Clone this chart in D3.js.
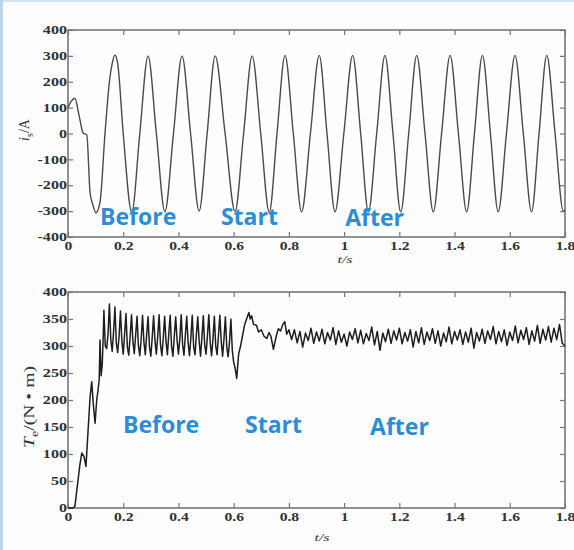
<!DOCTYPE html>
<html>
<head>
<meta charset="utf-8">
<script src="https://cdn.jsdelivr.net/npm/d3@7"></script>
<style>
  body { margin: 0; background: #fdfdfd; }
  svg { display: block; }
</style>
</head>
<body>
<div id="chart"></div>
<script>
// tick labels
var xTicks = [0, 0.2, 0.4, 0.6, 0.8, 1, 1.2, 1.4, 1.6, 1.8];
var xTickLabels = ["0", "0.2", "0.4", "0.6", "0.8", "1", "1.2", "1.4", "1.6", "1.8"];
var currentTicks = [-400, -300, -200, -100, 0, 100, 200, 300, 400];
var currentTickLabels = ["-400", "-300", "-200", "-100", "0", "100", "200", "300", "400"];
var torqueTicks = [0, 50, 100, 150, 200, 250, 300, 350, 400];
var torqueTickLabels = ["0", "50", "100", "150", "200", "250", "300", "350", "400"];

// stator current i_s (A): times and values read at peaks, troughs and crossings
var currentT = [0, 0.012, 0.025, 0.04, 0.055, 0.068, 0.08, 0.09, 0.101, 0.116, 0.134, 0.15, 0.16, 0.17, 0.18,
  0.2, 0.231, 0.26, 0.29, 0.32, 0.351, 0.382, 0.413, 0.444, 0.475, 0.504, 0.533, 0.569, 0.605,
  0.636, 0.667, 0.698, 0.729, 0.757, 0.786, 0.816, 0.846, 0.878, 0.91, 0.938, 0.967, 0.999, 1.031,
  1.06, 1.088, 1.118, 1.148, 1.177, 1.205, 1.234, 1.263, 1.293, 1.323, 1.353, 1.384, 1.414, 1.444,
  1.472, 1.501, 1.53, 1.558, 1.588, 1.619, 1.649, 1.679, 1.706, 1.734, 1.764, 1.794, 1.8];
var currentV = [100, 125, 136, 70, 2, -5, -230, -275, -306, -265, 0, 200, 270, 303, 270,
  0, -305, 0, 300, 0, -303, 0, 300, 0, -300, 0, 300, 0, -302,
  0, 300, 0, -305, 0, 302, 0, -303, 0, 302, 0, -303, 0, 302,
  0, -303, 0, 302, 0, -303, 0, 302, 0, -303, 0, 302, 0, -303,
  0, 302, 0, -303, 0, 302, 0, -303, 0, 302, 0, -300, -295];

// electromagnetic torque T_e (N·m)
// start-up ramp
var torqueRampT = [0, 0.018, 0.025, 0.043, 0.05, 0.058, 0.065, 0.08, 0.086, 0.092, 0.098, 0.104, 0.108, 0.113, 0.116, 0.12, 0.124, 0.128];
var torqueRampV = [0, 0, 3, 80, 102, 95, 77, 206, 234, 190, 157, 200, 215, 237, 311, 245, 265, 324];
// ripple before, sampled every 0.005 s from 0.13 s
var rippleStart = 0.13, rippleStep = 0.005;
var rippleV = [
  366, 300, 295, 322, 378, 312, 290, 326, 372, 305, 288, 318, 365, 310, 285, 322,
  360, 298, 283, 317, 358, 309, 286, 320, 355, 301, 282, 312, 357, 307, 284, 321,
  354, 299, 281, 316, 356, 310, 285, 319, 358, 302, 282, 314, 355, 308, 284, 322,
  357, 300, 281, 318, 354, 311, 285, 313, 358, 303, 283, 320, 355, 307, 282, 315,
  357, 299, 284, 321, 354, 309, 281, 316, 356, 302, 285, 319, 358, 306, 282, 313,
  355, 300, 284, 320, 357, 308, 281, 314, 354, 298, 280, 308, 350, 292, 270, 260];
// switching moment
var torqueSwitchT = [0.611, 0.618, 0.625, 0.64, 0.648, 0.655, 0.66, 0.665, 0.672, 0.683, 0.69, 0.70, 0.71, 0.72, 0.728, 0.735, 0.744, 0.755, 0.762, 0.77, 0.778, 0.785, 0.792, 0.80];
var torqueSwitchV = [240, 285, 300, 340, 352, 362, 350, 356, 340, 338, 326, 330, 318, 314, 325, 318, 294, 320, 332, 328, 340, 345, 322, 330];
// after, sampled every 0.01 s from 0.81 s
var afterStart = 0.81, afterStep = 0.01;
var afterV = [
  312, 330, 306, 327, 298, 324, 310, 333, 305, 326,
  309, 331, 304, 325, 311, 334, 303, 328, 307, 322,
  300, 326, 312, 332, 306, 329, 304, 323, 310, 335,
  302, 327, 292, 324, 308, 331, 305, 328, 311, 333,
  304, 325, 309, 330, 298, 327, 306, 334, 303, 326,
  310, 332, 305, 328, 300, 324, 308, 335, 304, 327,
  311, 330, 303, 326, 307, 333, 296, 325, 309, 331,
  305, 328, 312, 336, 304, 327, 308, 330, 301, 326,
  310, 337, 306, 329, 312, 334, 303, 328, 309, 338,
  305, 331, 311, 336, 307, 333, 312, 340, 305, 300];

// annotations
var labelsTop = [{text: "Before", t: 0.116, v: -353}, {text: "Start", t: 0.554, v: -353}, {text: "After", t: 1.004, v: -358}];
var labelsBottom = [{text: "Before", t: 0.199, v: 139}, {text: "Start", t: 0.641, v: 139}, {text: "After", t: 1.094, v: 135}];

var currentData = currentT.map(function(t, i) { return {t: t, v: currentV[i]}; });
var torqueData = torqueRampT.map(function(t, i) { return {t: t, v: torqueRampV[i]}; })
  .concat(rippleV.map(function(v, i) { return {t: rippleStart + i * rippleStep, v: v}; }))
  .concat(torqueSwitchT.map(function(t, i) { return {t: t, v: torqueSwitchV[i]}; }))
  .concat(afterV.map(function(v, i) { return {t: afterStart + i * afterStep, v: v}; }));

var svg = d3.select("#chart")
  .append("svg")
  .attr("width", 574)
  .attr("height", 550);

// light blue frame round the figure
svg.append("rect").attr("x", 0).attr("y", 0).attr("width", 574).attr("height", 2).attr("fill", "#d3e4f1");
svg.append("rect").attr("x", 0).attr("y", 0).attr("width", 3).attr("height", 550).attr("fill", "#bcd5ea");

// the picture is stretched sideways, so the serif text is too
function stretch(sel, k) {
  sel.each(function() {
    var len = this.getComputedTextLength();
    if (len > 0) d3.select(this).attr("textLength", len * k).attr("lengthAdjust", "spacingAndGlyphs");
  });
}

function panel(opt) {
  var width = 497, height = opt.height;
  var g = svg.append("g").attr("transform", "translate(68," + opt.top + ")");

  var x = d3.scaleLinear().domain([0, 1.8]).range([0, width]);
  var y = d3.scaleLinear().domain(opt.domain).range([height, 0]);

  var bottom = g.append("g")
    .attr("transform", "translate(0," + height + ")")
    .call(d3.axisBottom(x).tickValues(xTicks).tickSizeInner(-5).tickSizeOuter(0).tickPadding(5)
      .tickFormat(function(d, i) { return xTickLabels[i]; }));
  g.append("g")
    .call(d3.axisTop(x).tickValues(xTicks).tickSizeInner(-5).tickSizeOuter(0).tickFormat(""));
  var left = g.append("g")
    .call(d3.axisLeft(y).tickValues(opt.ticks).tickSizeInner(-5).tickSizeOuter(0).tickPadding(1)
      .tickFormat(function(d, i) { return opt.tickLabels[i]; }));
  g.append("g")
    .attr("transform", "translate(" + width + ",0)")
    .call(d3.axisRight(y).tickValues(opt.ticks).tickSizeInner(-5).tickSizeOuter(0).tickFormat(""));

  g.selectAll(".domain").remove();
  g.selectAll(".tick line").attr("stroke", "#777").attr("stroke-width", 1.2);
  g.selectAll(".tick text")
    .attr("fill", "#333")
    .style("font-family", "'Liberation Serif', serif")
    .style("font-size", "11.5px")
    .style("font-weight", "bold");
  stretch(bottom.selectAll(".tick text"), 1.36);
  stretch(left.selectAll(".tick text"), 1.4);

  // box
  g.append("rect")
    .attr("width", width)
    .attr("height", height)
    .attr("fill", "none")
    .attr("stroke", "#777")
    .attr("stroke-width", 1.6);

  // signal
  var line = d3.line()
    .x(function(d) { return x(d.t); })
    .y(function(d) { return y(d.v); })
    .curve(opt.curve);
  g.append("path")
    .datum(opt.data)
    .attr("fill", "none")
    .attr("stroke", opt.color)
    .attr("stroke-width", opt.lineWidth)
    .attr("stroke-linejoin", "round")
    .attr("d", line);

  // Before / Start / After
  g.selectAll(".note")
    .data(opt.notes)
    .enter()
    .append("text")
    .attr("class", "note")
    .attr("x", function(d) { return x(d.t); })
    .attr("y", function(d) { return y(d.v); })
    .attr("fill", "#2c8dd6")
    .style("font-family", "'Open Sans', sans-serif")
    .style("font-weight", "bold")
    .style("font-size", "23px")
    .text(function(d) { return d.text; });

  // x label t/s
  var xl = g.append("text")
    .attr("x", opt.xLabelX)
    .attr("y", height + opt.xLabelDy)
    .attr("text-anchor", "middle")
    .attr("fill", "#333")
    .style("font-family", "'Liberation Serif', serif")
    .style("font-style", "italic")
    .style("font-size", "11px")
    .text("t/s");
  stretch(xl, 1.45);

  return g;
}

panel({
  top: 30, height: 207, domain: [-400, 400], ticks: currentTicks, tickLabels: currentTickLabels,
  data: currentData, curve: d3.curveMonotoneX, color: "#4a4a4a", lineWidth: 1.4,
  notes: labelsTop, xLabelX: 277, xLabelDy: 26
});
panel({
  top: 292, height: 216, domain: [0, 400], ticks: torqueTicks, tickLabels: torqueTickLabels,
  data: torqueData, curve: d3.curveLinear, color: "#1e1e1e", lineWidth: 1.5,
  notes: labelsBottom, xLabelX: 254, xLabelDy: 33
});

// y labels
var yl1 = svg.append("text")
  .attr("transform", "translate(29,130) rotate(-90)")
  .attr("text-anchor", "middle")
  .attr("fill", "#333")
  .style("font-family", "'Liberation Serif', serif")
  .style("font-size", "14px");
yl1.append("tspan").style("font-style", "italic").text("i");
yl1.append("tspan").attr("dy", 4).style("font-size", "10px").text("s");
yl1.append("tspan").attr("dy", -4).text("/A");

var yl2 = svg.append("text")
  .attr("transform", "translate(34,407) rotate(-90)")
  .attr("text-anchor", "middle")
  .attr("fill", "#333")
  .attr("textLength", 82)
  .attr("lengthAdjust", "spacingAndGlyphs")
  .style("font-family", "'Liberation Serif', serif")
  .style("font-size", "14px");
yl2.append("tspan").style("font-style", "italic").text("T");
yl2.append("tspan").attr("dy", 4).style("font-size", "10px").text("e");
yl2.append("tspan").attr("dy", -4).text("/(N • m)");
</script>
</body>
</html>
